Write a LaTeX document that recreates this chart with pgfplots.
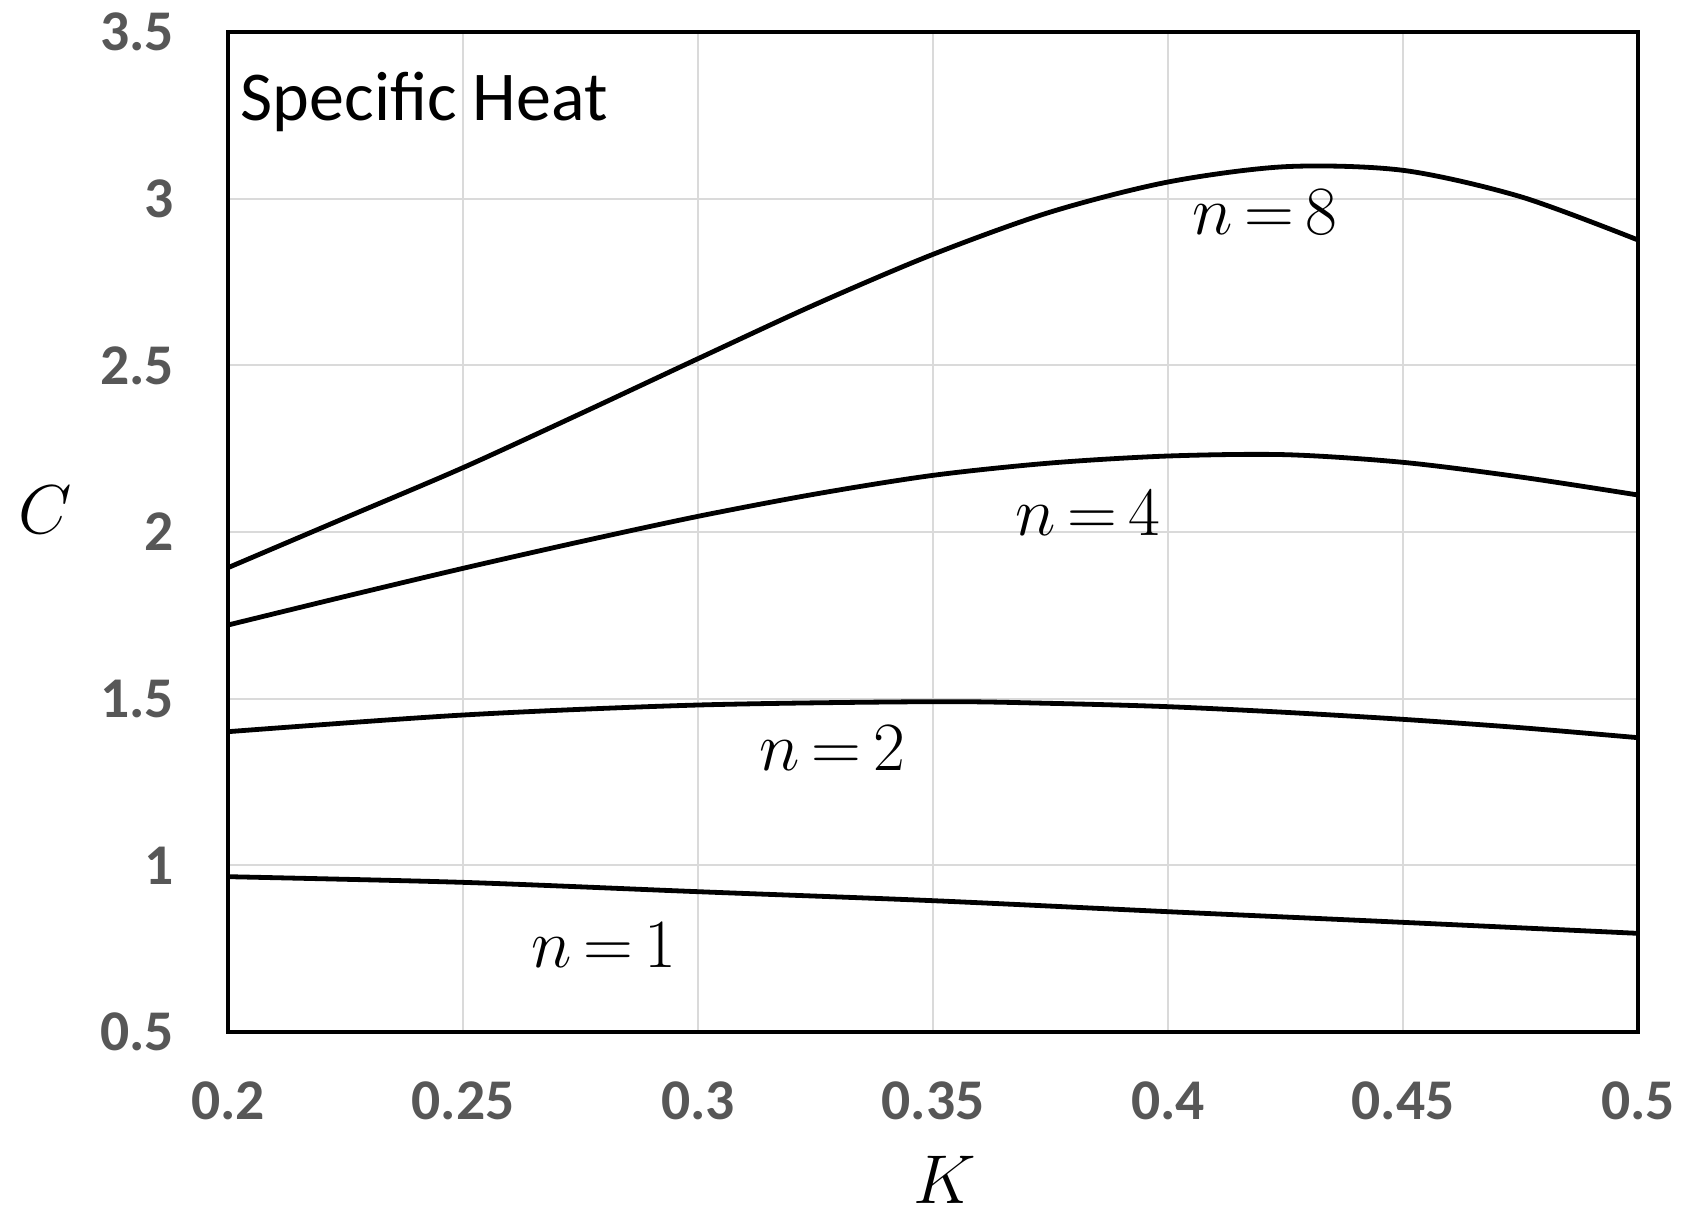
\documentclass[border=0pt]{standalone}
\usepackage[no-math]{fontspec}
\usepackage{pgfplots}
\pgfplotsset{compat=1.18}
\newfontfamily\tickfont{Carlito}
\definecolor{tickgray}{HTML}{575757}
\definecolor{gridgray}{HTML}{DADADA}
\begin{document}
\begin{tikzpicture}
\begin{axis}[
  name=ax,
  scale only axis,
  width=352.5pt, height=250pt,
  xmin=0.2, xmax=0.5, ymin=0.5, ymax=3.5,
  xtick={0.2,0.25,...,0.5}, ytick={0.5,1,...,3.5},
  xticklabels={0.2,0.25,0.3,0.35,0.4,0.45,0.5},
  yticklabels={0.5,1,1.5,2,2.5,3,3.5},
  major tick length=0pt,
  grid=major,
  major grid style={draw=gridgray, line width=0.5pt},
  axis line style={line width=1.1pt},
  /pgf/number format/assume math mode=true,
  tick label style={font=\tickfont\bfseries\fontsize{14.4}{17}\selectfont, text=tickgray},
  yticklabel style={anchor=east, xshift=-10pt},
  xticklabel style={anchor=north, yshift=-9pt},
  xlabel={$K$},
  xlabel style={font=\fontsize{19}{22}\selectfont, at={(axis description cs:0.5,0)}, anchor=center, yshift=-37pt, xshift=3pt},
  ylabel={$C$},
  ylabel style={font=\fontsize{17}{20}\selectfont, rotate=-90, at={(axis description cs:0,0.522)}, anchor=center, xshift=-45.75pt},
  every axis plot/.append style={line width=1.2pt, smooth, no markers},
  clip=false,
]
\coordinate (sw) at (rel axis cs:0,0);
\coordinate (ne) at (rel axis cs:1,1);
% n = 8
\addplot[black] coordinates {
(0.200,1.893) (0.225,2.043) (0.250,2.193) (0.275,2.355) (0.300,2.520)
(0.325,2.683) (0.350,2.833) (0.375,2.960) (0.400,3.050) (0.425,3.096)
(0.450,3.085) (0.475,3.006) (0.500,2.876)};
% n = 4
\addplot[black] coordinates {
(0.200,1.721) (0.225,1.807) (0.250,1.891) (0.275,1.971) (0.300,2.047)
(0.325,2.114) (0.350,2.170) (0.375,2.207) (0.400,2.228) (0.425,2.232)
(0.450,2.209) (0.475,2.165) (0.500,2.111)};
% n = 2
\addplot[black] coordinates {
(0.200,1.401) (0.250,1.451) (0.300,1.481) (0.350,1.491) (0.375,1.486)
(0.400,1.476) (0.425,1.459) (0.450,1.438) (0.475,1.413) (0.500,1.383)};
% n = 1
\addplot[black] coordinates {
(0.200,0.966) (0.250,0.949) (0.300,0.921) (0.350,0.894)
(0.400,0.861) (0.450,0.829) (0.500,0.796)};
\node[font=\fontsize{16}{19}\selectfont] at (axis cs:0.4207,2.959) {$n\,{=}\,8$};
\node[font=\fontsize{16}{19}\selectfont] at (axis cs:0.383,2.056) {$n\,{=}\,4$};
\node[font=\fontsize{16}{19}\selectfont] at (axis cs:0.3286,1.350) {$n\,{=}\,2$};
\node[font=\fontsize{16}{19}\selectfont] at (axis cs:0.280,0.761) {$n\,{=}\,1$};
\node[font=\tickfont\fontsize{17.5}{21}\selectfont, anchor=base west, inner sep=0pt] at ([xshift=3pt,yshift=-22pt]rel axis cs:0,1) {Specific Heat};
\end{axis}
\pgfresetboundingbox
\path ([xshift=-57pt,yshift=-44.75pt]sw) rectangle ([xshift=11.5pt,yshift=8pt]ne);
\end{tikzpicture}
\end{document}
